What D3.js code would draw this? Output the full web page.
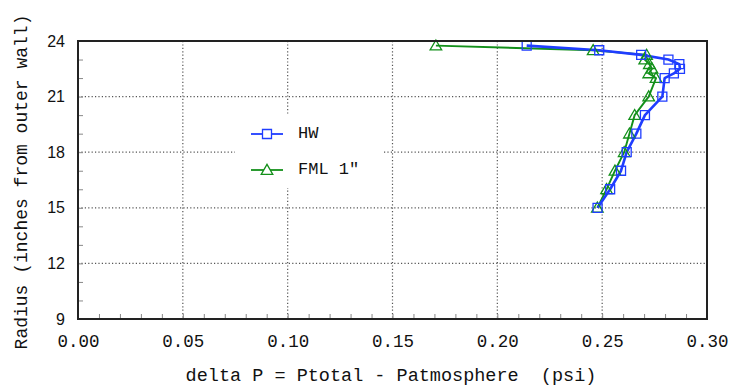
<!DOCTYPE html>
<html>
<head>
<meta charset="utf-8">
<script src="https://cdn.jsdelivr.net/npm/d3@7"></script>
<style>
  html, body { margin: 0; padding: 0; background: #fff; }
  svg { display: block; }
</style>
</head>
<body>
<svg id="chart" width="739" height="388"></svg>
<script>
// Pressure difference profiles against radius
const radiusHW = [15, 16, 17, 18, 19, 20, 21, 22, 22.25, 22.5, 22.75, 23, 23.25, 23.5, 23.75];
const deltaHW  = [0.2478, 0.2538, 0.2590, 0.2617, 0.2663, 0.2704, 0.2787, 0.2798, 0.2842, 0.2871, 0.2868, 0.2816, 0.2686, 0.2486, 0.2140];

const radiusFML = [15, 16, 17, 18, 19, 20, 21, 22, 22.25, 22.5, 22.75, 23, 23.25, 23.5, 23.75];
const deltaFML  = [0.2477, 0.2521, 0.2561, 0.2605, 0.2630, 0.2655, 0.2722, 0.2757, 0.2722, 0.2738, 0.2725, 0.2703, 0.2712, 0.2457, 0.1707];

const seriesNames = ["HW", "FML 1\""];
const xTickValues = [0.00, 0.05, 0.10, 0.15, 0.20, 0.25, 0.30];
const yTickValues = [9, 12, 15, 18, 21, 24];

const plotLeft = 78, plotRight = 707, plotTop = 41, plotBottom = 319;
const svg = d3.select("#chart");

const x = d3.scaleLinear().domain([0, 0.30]).range([plotLeft, plotRight]);
const y = d3.scaleLinear().domain([9, 24]).range([plotBottom, plotTop]);

const blue = "#1f3dff", green = "#13901a";
const mono = "'Liberation Mono', 'DejaVu Sans Mono', monospace";

// dotted grid at interior major ticks
const grid = svg.append("g");
grid.selectAll("line.gx").data(xTickValues.slice(1, -1)).join("line")
  .attr("x1", d => x(d)).attr("x2", d => x(d))
  .attr("y1", plotTop).attr("y2", plotBottom)
  .attr("stroke", "#555").attr("stroke-width", 1.2).attr("stroke-dasharray", "1.2,2.2");
grid.selectAll("line.gy").data(yTickValues.slice(1, -1)).join("line")
  .attr("x1", plotLeft).attr("x2", plotRight)
  .attr("y1", d => y(d)).attr("y2", d => y(d))
  .attr("stroke", "#555").attr("stroke-width", 1.2).attr("stroke-dasharray", "1.2,2.2");

// minor inward ticks
const xMinor = d3.range(1, 30).map(i => i / 100);
const yMinor = d3.range(10, 24);
svg.append("g").attr("transform", `translate(0,${plotBottom})`)
  .call(d3.axisBottom(x).tickValues(xMinor).tickSize(-5).tickFormat(""))
  .call(g => g.select(".domain").remove())
  .call(g => g.selectAll(".tick line").attr("stroke", "#888").attr("stroke-width", 1));
svg.append("g").attr("transform", `translate(${plotLeft},0)`)
  .call(d3.axisLeft(y).tickValues(yMinor).tickSize(-5).tickFormat(""))
  .call(g => g.select(".domain").remove())
  .call(g => g.selectAll(".tick line").attr("stroke", "#888").attr("stroke-width", 1));

// tick labels
svg.append("g").attr("transform", `translate(0,${plotBottom})`)
  .call(d3.axisBottom(x).tickValues(xTickValues).tickSize(0).tickPadding(0).tickFormat(d3.format(".2f")))
  .call(g => g.select(".domain").remove())
  .call(g => g.selectAll(".tick text")
    .attr("dy", 0).attr("y", 28)
    .attr("font-family", mono).attr("font-size", 17.5).attr("fill", "#111"));
svg.append("g").attr("transform", `translate(${plotLeft},0)`)
  .call(d3.axisLeft(y).tickValues(yTickValues).tickSize(0).tickPadding(0).tickFormat(d3.format("d")))
  .call(g => g.select(".domain").remove())
  .call(g => g.selectAll(".tick text")
    .attr("x", -13).attr("dy", "0.32em")
    .attr("font-family", "'Liberation Sans', Arial, sans-serif").attr("font-size", 16).attr("fill", "#111"));

// axis titles
svg.append("text")
  .attr("x", 391).attr("y", 381)
  .attr("text-anchor", "middle")
  .attr("font-family", mono).attr("font-size", 18.5).attr("fill", "#111")
  .attr("xml:space", "preserve")
  .text("delta P = Ptotal - Patmosphere  (psi)");
svg.append("text")
  .attr("transform", `translate(27,182) rotate(-90)`)
  .attr("text-anchor", "middle")
  .attr("font-family", mono).attr("font-size", 18).attr("fill", "#111")
  .text("Radius (inches from outer wall)");

// legend background
const legend = svg.append("g");
legend.append("rect")
  .attr("x", 235).attr("y", 115).attr("width", 147).attr("height", 73)
  .attr("fill", "#fff");

// series
const seriesData = [
  { name: seriesNames[0], color: blue, width: 2.6, shape: "square",
    pts: radiusHW.map((r, i) => ({ r, p: deltaHW[i] })) },
  { name: seriesNames[1], color: green, width: 1.9, shape: "triangle",
    pts: radiusFML.map((r, i) => ({ r, p: deltaFML[i] })) }
];

const line = d3.line().x(d => x(d.p)).y(d => y(d.r));
const sq = d3.symbol().type(d3.symbolSquare).size(81);
const tri = d3.symbol().type(d3.symbolTriangle).size(58);

// green first so blue sits over it where they overlap
[seriesData[1], seriesData[0]].forEach(s => {
  svg.append("path").datum(s.pts)
    .attr("d", line).attr("fill", "none")
    .attr("stroke", s.color).attr("stroke-width", s.width)
    .attr("stroke-linejoin", "round");
});
[seriesData[1], seriesData[0]].forEach(s => {
  svg.append("g").selectAll("path").data(s.pts).join("path")
    .attr("transform", d => `translate(${x(d.p)},${y(d.r) + (s.shape === "triangle" ? 1 : 0)})`)
    .attr("d", s.shape === "square" ? sq : tri)
    .attr("fill", "none").attr("stroke", s.color).attr("stroke-width", 1.3);
});

// legend entries
const legendRows = [
  { s: seriesData[0], yy: 134 },
  { s: seriesData[1], yy: 170 }
];
legendRows.forEach(({ s, yy }) => {
  legend.append("line")
    .attr("x1", 251).attr("x2", 283).attr("y1", yy).attr("y2", yy)
    .attr("stroke", s.color).attr("stroke-width", 1.8);
  legend.append("path")
    .attr("transform", `translate(267,${yy + (s.shape === "triangle" ? 1 : 0)})`)
    .attr("d", s.shape === "square" ? sq : tri)
    .attr("fill", "#fff").attr("stroke", s.color).attr("stroke-width", 1.3);
  legend.append("text")
    .attr("x", 298).attr("y", yy - 2).attr("dy", "0.35em")
    .attr("font-family", mono).attr("font-size", 17).attr("fill", "#111")
    .attr("xml:space", "preserve")
    .text(s.name);
});

// plot frame
svg.append("rect")
  .attr("x", plotLeft).attr("y", plotTop).attr("width", plotRight - plotLeft).attr("height", plotBottom - plotTop)
  .attr("fill", "none").attr("stroke", "#222").attr("stroke-width", 2);
</script>
</body>
</html>
